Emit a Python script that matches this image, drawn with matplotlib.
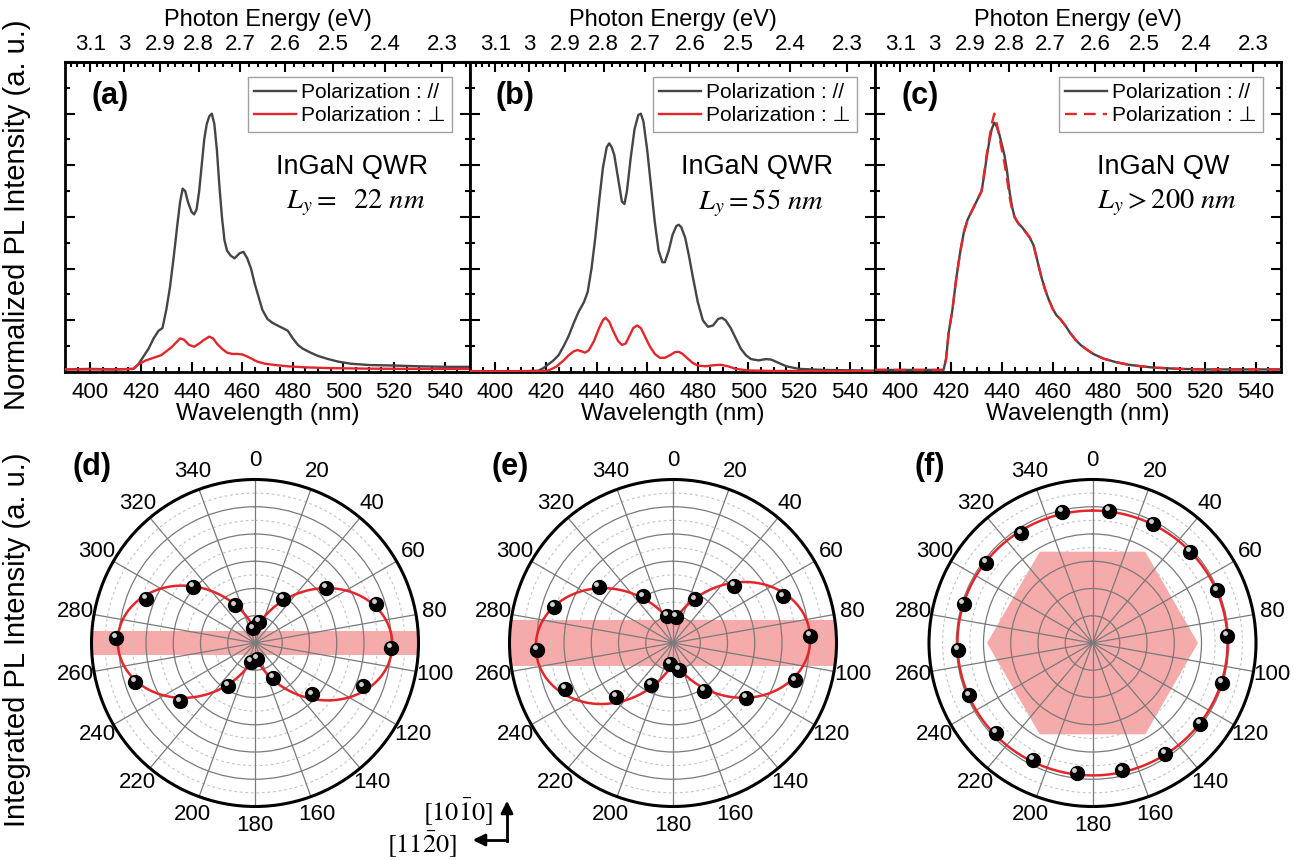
import numpy as np
import matplotlib
matplotlib.use('Agg')
import matplotlib.pyplot as plt
from matplotlib.ticker import MultipleLocator, FixedLocator, NullFormatter, FixedFormatter
from matplotlib.lines import Line2D
import matplotlib.transforms as mtransforms

plt.rcParams['font.family'] = ['Liberation Sans', 'DejaVu Sans']
plt.rcParams['mathtext.fontset'] = 'stix'

# ---------------- data: PL spectra ----------------
wl_a_par = [390, 400, 410, 417, 419, 421, 423, 425, 427, 428.5, 430, 431.5, 433, 434.5, 435.5, 436.5,
            437.5, 438.5, 440, 441, 442, 443, 444, 445, 446, 447, 448, 449, 450, 451, 452, 453, 454,
            455.5, 457, 459, 460.5, 462, 463.5, 465, 466.5, 468, 470, 472, 474, 476, 478, 480, 482,
            484, 487, 490, 494, 498, 503, 510, 520, 530, 540, 550]
pl_a_par = [0.01, 0.012, 0.01, 0.012, 0.03, 0.06, 0.09, 0.13, 0.16, 0.17, 0.24, 0.33, 0.45, 0.58, 0.66,
            0.71, 0.70, 0.66, 0.62, 0.61, 0.63, 0.70, 0.80, 0.90, 0.96, 0.99, 1.0, 0.96, 0.86, 0.72,
            0.60, 0.51, 0.47, 0.45, 0.44, 0.46, 0.465, 0.44, 0.40, 0.34, 0.29, 0.24, 0.205, 0.19, 0.18,
            0.17, 0.16, 0.13, 0.105, 0.09, 0.075, 0.062, 0.05, 0.04, 0.032, 0.027, 0.025, 0.022, 0.02, 0.02]
wl_a_perp = [390, 410, 417, 419, 422, 425, 428, 430, 432, 434, 435.5, 437, 439, 441, 443, 445, 447,
             448.5, 450, 452, 454, 456, 458, 460, 462, 464, 466, 469, 473, 478, 485, 495, 510, 530, 550]
pl_a_perp = [0.01, 0.01, 0.012, 0.03, 0.045, 0.055, 0.065, 0.08, 0.095, 0.115, 0.13, 0.125, 0.105,
             0.098, 0.11, 0.125, 0.137, 0.13, 0.11, 0.09, 0.075, 0.07, 0.07, 0.068, 0.06, 0.05, 0.04,
             0.032, 0.027, 0.022, 0.018, 0.015, 0.013, 0.012, 0.012]

wl_b_par = [390, 410, 417, 419, 421, 423, 425, 427, 429, 431, 433, 435, 436.5, 438, 439.5, 441, 442.5,
            444, 445, 446, 447, 448.5, 450, 451, 452, 453.5, 455, 456.5, 457.5, 458.5, 460, 461.5, 463,
            464.5, 466, 467, 468.5, 470, 471.5, 472.5, 473.5, 475, 476.5, 478, 480, 482, 484, 486, 488,
            489.5, 491, 493, 495, 497, 499, 501, 504, 507, 509, 512, 515, 520, 530, 550]
pl_b_par = [0.003, 0.003, 0.005, 0.015, 0.03, 0.045, 0.065, 0.10, 0.14, 0.19, 0.235, 0.27, 0.31, 0.40,
            0.52, 0.66, 0.79, 0.87, 0.885, 0.87, 0.84, 0.75, 0.66, 0.65, 0.70, 0.83, 0.94, 0.995, 1.0,
            0.97, 0.86, 0.72, 0.58, 0.47, 0.425, 0.425, 0.47, 0.53, 0.565, 0.57, 0.56, 0.52, 0.45, 0.37,
            0.27, 0.20, 0.175, 0.18, 0.205, 0.21, 0.20, 0.17, 0.13, 0.09, 0.065, 0.05, 0.045, 0.05,
            0.048, 0.035, 0.022, 0.012, 0.008, 0.005]
wl_b_perp = [390, 418, 421, 424, 427, 429, 431, 432.5, 434, 435.5, 437, 439, 441, 442.5, 443.5, 445,
             446.5, 448.5, 450, 451.5, 453, 454.5, 456, 457.5, 459, 461, 463, 465, 467, 469, 471, 472.5,
             474, 476, 478, 480, 483, 486, 489, 492, 495, 500, 510, 550]
pl_b_perp = [0.003, 0.003, 0.006, 0.02, 0.045, 0.065, 0.08, 0.085, 0.08, 0.075, 0.085, 0.12, 0.17, 0.20,
             0.21, 0.195, 0.16, 0.12, 0.105, 0.11, 0.14, 0.17, 0.18, 0.17, 0.14, 0.10, 0.07, 0.055,
             0.055, 0.065, 0.077, 0.078, 0.07, 0.052, 0.035, 0.025, 0.022, 0.026, 0.028, 0.022, 0.012,
             0.006, 0.004, 0.003]

wl_c = [390, 410, 417, 418, 419, 420.5, 422, 423.5, 425, 426.5, 428, 429.5, 431, 432, 433, 434, 435,
        436, 437, 438, 439, 440, 441, 442, 443, 444, 445, 446.5, 448, 449.5, 451, 452.5, 454, 455.5,
        457, 458.5, 460, 461.5, 463, 465, 467, 469, 471, 473, 476, 480, 485, 490, 495, 500, 510, 520, 550]
pl_c_par = [0.008, 0.008, 0.008, 0.05, 0.15, 0.24, 0.36, 0.46, 0.54, 0.59, 0.62, 0.65, 0.68, 0.70, 0.76,
            0.83, 0.89, 0.94, 0.965, 0.95, 0.92, 0.88, 0.84, 0.78, 0.70, 0.64, 0.60, 0.575, 0.56, 0.54,
            0.52, 0.49, 0.43, 0.37, 0.32, 0.28, 0.245, 0.22, 0.205, 0.18, 0.15, 0.125, 0.105, 0.09,
            0.07, 0.052, 0.038, 0.028, 0.022, 0.017, 0.012, 0.01, 0.01]
pl_c_perp = [0.008, 0.008, 0.008, 0.05, 0.15, 0.24, 0.36, 0.46, 0.54, 0.59, 0.62, 0.65, 0.68, 0.70, 0.77,
             0.84, 0.90, 0.96, 1.0, 0.96, 0.91, 0.86, 0.81, 0.75, 0.68, 0.63, 0.60, 0.575, 0.56, 0.54,
             0.52, 0.49, 0.43, 0.37, 0.32, 0.28, 0.245, 0.22, 0.205, 0.18, 0.15, 0.125, 0.105, 0.09,
             0.07, 0.052, 0.038, 0.028, 0.022, 0.017, 0.012, 0.01, 0.01]

wl_ticks = [400, 420, 440, 460, 480, 500, 520, 540]
ev_ticks = [3.1, 3.0, 2.9, 2.8, 2.7, 2.6, 2.5, 2.4, 2.3]
ev_labels = ['3.1', '3', '2.9', '2.8', '2.7', '2.6', '2.5', '2.4', '2.3']

panel_top_labels = ['(a)', '(b)', '(c)']
sample_names = ['InGaN QWR', 'InGaN QWR', 'InGaN QW']
sample_widths = [r'$L_y =\ \ 22\ nm$', r'$L_y = 55\ nm$', r'$L_y > 200\ nm$']
legend_labels = ['Polarization : //', 'Polarization : \u22a5']

# ---------------- data: polar measurements ----------------
angle_labels = [str(a) for a in range(0, 360, 20)]
ang_d = [12, 32, 52, 72, 92, 112, 132, 152, 172, 192, 212, 232, 252, 272, 292, 312, 332, 352]
int_d = [0.13, 0.32, 0.55, 0.78, 0.83, 0.71, 0.47, 0.24, 0.10, 0.12, 0.31, 0.58, 0.77, 0.85, 0.72,
         0.51, 0.26, 0.09]
ang_e = [7, 27, 47, 67, 87, 107, 127, 147, 167, 187, 207, 227, 247, 267, 287, 307, 327, 347]
int_e = [0.16, 0.30, 0.51, 0.73, 0.84, 0.78, 0.56, 0.35, 0.17, 0.13, 0.29, 0.48, 0.72, 0.83, 0.76,
         0.57, 0.34, 0.17]
ang_f = [7, 27, 47, 67, 87, 107, 127, 147, 167, 187, 207, 227, 247, 267, 287, 307, 327, 347]
int_f = [0.816, 0.817, 0.814, 0.825, 0.825, 0.828, 0.822, 0.81, 0.80, 0.80, 0.80, 0.806, 0.821, 0.825,
         0.825, 0.814, 0.80, 0.822]
# fit parameters of I = a + b*sin^2(theta - phi)
fit_d = (0.095, 0.745, 1.0)
fit_e = (0.14, 0.70, -2.5)
fit_f = (0.81, 0.016, 0.0)
panel_bot_labels = ['(d)', '(e)', '(f)']

# ---------------- figure ----------------
W, H = 1316, 860
fig = plt.figure(figsize=(W / 100, H / 100), dpi=100)


def rect(x0, y0, x1, y1):
    return [x0 / W, 1 - y1 / H, (x1 - x0) / W, (y1 - y0) / H]


def ftext(x, y, s, **kw):
    return fig.text(x / W, 1 - y / H, s, **kw)


GRAY = '#454545'
RED = '#e4262b'
PINK = '#f7aaaa'


def nm2ev(x):
    x = np.asarray(x, dtype=float)
    out = np.full_like(x, 1e9)
    np.divide(1239.84, x, out=out, where=np.abs(x) > 1e-9)
    return out


top_x = [(65, 470), (470, 875), (875, 1281)]
curves = [(wl_a_par, pl_a_par, wl_a_perp, pl_a_perp, '-'),
          (wl_b_par, pl_b_par, wl_b_perp, pl_b_perp, '-'),
          (wl_c, pl_c_par, wl_c, pl_c_perp, '--')]

for i, (x0, x1) in enumerate(top_x):
    ax = fig.add_axes(rect(x0, 62, x1, 372))
    wp, ip, ws, is_, sty = curves[i]
    ax.plot(wp, ip, color=GRAY, lw=1.7, zorder=3)
    if sty == '--':
        ax.plot(ws, is_, color=RED, lw=1.7, ls=(0, (5, 3)), zorder=4)
    else:
        ax.plot(ws, is_, color=RED, lw=1.7, zorder=4)
    ax.set_xlim(390, 550)
    ax.set_ylim(0, 1.2)
    ax.xaxis.set_major_locator(FixedLocator(wl_ticks))
    ax.xaxis.set_minor_locator(MultipleLocator(5))
    ax.yaxis.set_major_locator(MultipleLocator(0.2))
    ax.yaxis.set_minor_locator(MultipleLocator(0.1))
    ax.yaxis.set_major_formatter(NullFormatter())
    ax.tick_params(which='both', direction='in', right=True, top=False, width=1.5)
    ax.tick_params(which='major', length=7)
    ax.tick_params(which='minor', length=3.5)
    ax.tick_params(axis='x', labelsize=16, pad=7)
    for s in ax.spines.values():
        s.set_linewidth(2)
    ax.set_xlabel('Wavelength (nm)', fontsize=17.5, labelpad=0)

    sec = ax.secondary_xaxis('top', functions=(nm2ev, nm2ev))
    sec.xaxis.set_major_locator(FixedLocator(ev_ticks))
    sec.xaxis.set_major_formatter(FixedFormatter(ev_labels))
    sec.xaxis.set_minor_locator(FixedLocator(np.round(np.arange(2.26, 3.19, 0.02), 2)))
    sec.tick_params(which='both', direction='in', width=1.5)
    sec.tick_params(which='major', length=7, labelsize=16, pad=5)
    sec.tick_params(which='minor', length=3.5)
    sec.spines['top'].set_linewidth(2)
    sec.set_xlabel('Photon Energy (eV)', fontsize=17, labelpad=6)

    handles = [Line2D([], [], color=GRAY, lw=1.7),
               Line2D([], [], color=RED, lw=1.7, ls=(0, (5, 3)) if sty == '--' else '-')]
    leg = ax.legend(handles, legend_labels, loc='upper right', bbox_to_anchor=(0.955, 0.952),
                    borderaxespad=0, fontsize=15, frameon=True, fancybox=False, edgecolor='#8a8a8a',
                    handlelength=2.0, handletextpad=0.25, labelspacing=0.2, borderpad=0.3)
    leg.get_frame().set_linewidth(1.0)

    cx = x0 + 45
    ftext(cx, 96, panel_top_labels[i], fontsize=22, fontweight='bold', ha='center', va='center')
    ftext(x1 - 118, 167, sample_names[i], fontsize=19.5, ha='center', va='center')
    ftext(x1 - 114, 203, sample_widths[i], fontsize=20.5, ha='center', va='center')

# ---------------- polar panels ----------------
centers = [(255, 643), (673, 643), (1092.5, 643)]
R_PX = 163.5
pol_data = [(ang_d, int_d, fit_d), (ang_e, int_e, fit_e), (ang_f, int_f, fit_f)]
band_half = [0.072, 0.138, None]
hex_radius = 0.645

th_full = np.linspace(0, 2 * np.pi, 721)


def edge_path(corners, n=200):
    xs, ys = [], []
    m = len(corners)
    for k in range(m):
        xa, ya = corners[k]
        xb, yb = corners[(k + 1) % m]
        t = np.linspace(0, 1, n, endpoint=False)
        xs.append(xa + (xb - xa) * t)
        ys.append(ya + (yb - ya) * t)
    xs = np.concatenate(xs)
    ys = np.concatenate(ys)
    return np.arctan2(xs, ys), np.hypot(xs, ys)


for i, (cx, cy) in enumerate(centers):
    ax = fig.add_axes(rect(cx - R_PX, cy - R_PX, cx + R_PX, cy + R_PX), projection='polar')
    ax.set_theta_zero_location('N')
    ax.set_theta_direction(-1)
    ax.set_ylim(0, 1)
    ax.set_rgrids([1 / 6, 2 / 6, 3 / 6, 4 / 6, 5 / 6], labels=[''] * 5)
    ax.set_thetagrids(np.arange(0, 360, 20), angle_labels, fontsize=16)
    ax.grid(True, color='#7a7a7a', lw=0.9)
    ax.spines['polar'].set_linewidth(2.2)
    ax.tick_params(axis='x', direction='inout', length=7, width=1.4, pad=3)

    for rr in [1 / 12, 3 / 12, 5 / 12, 7 / 12, 9 / 12, 11 / 12]:
        ax.plot(th_full, np.full_like(th_full, rr), color='#c4c4c4', lw=0.8, ls=(0, (2.5, 2.5)), zorder=1.2)

    if band_half[i] is not None:
        h = band_half[i]
        th_b, r_b = edge_path([(-1.2, -h), (1.2, -h), (1.2, h), (-1.2, h)])
        ax.fill(th_b, r_b, color=PINK, lw=0, zorder=1.0)
    else:
        a6 = np.radians(np.arange(0, 360, 60))
        th_h, r_h = edge_path(list(zip(hex_radius * np.cos(a6), hex_radius * np.sin(a6))))
        ax.fill(th_h, r_h, color=PINK, lw=0, zorder=1.0)

    angs, vals, (fa, fb, fphi) = pol_data[i]
    th_deg = np.linspace(0, 360, 721)
    r_fit = fa + fb * np.sin(np.radians(th_deg - fphi)) ** 2
    ax.plot(np.radians(th_deg), r_fit, color=RED, lw=1.8, zorder=4)
    th_pts = np.radians(angs)
    ax.plot(th_pts, vals, 'o', ms=10, color='black', mec='black', zorder=5, clip_on=False)
    hl = ax.transData + mtransforms.ScaledTranslation(-1.5 / 72, 2.0 / 72, fig.dpi_scale_trans)
    ax.plot(th_pts, vals, 'o', ms=3.5, color='#d0d0d0', mec='none', transform=hl, zorder=6, clip_on=False)

    ftext(cx - 163, 467, panel_bot_labels[i], fontsize=22, fontweight='bold', ha='center', va='center')

# ---------------- side labels ----------------
ftext(17, 215, 'Normalized PL Intensity (a. u.)', rotation=90, fontsize=21, ha='center', va='center')
ftext(17, 640, 'Integrated PL Intensity (a. u.)', rotation=90, fontsize=21, ha='center', va='center')

# ---------------- crystal direction arrows ----------------
ftext(458, 812, r'$[10\bar{1}0]$', fontsize=19, ha='center', va='center')
ftext(422, 845, r'$[11\bar{2}0]$', fontsize=19, ha='center', va='center')
fig.add_artist(Line2D([507 / W, 507 / W], [1 - 841 / H, 1 - 812 / H], color='k', lw=2))
fig.add_artist(Line2D([507 / W, 485 / W], [1 - 840 / H, 1 - 840 / H], color='k', lw=2))
fig.patches.append(matplotlib.patches.FancyArrowPatch((507 / W, 1 - 815 / H), (507 / W, 1 - 798 / H),
                   transform=fig.transFigure, arrowstyle='-|>', mutation_scale=18, color='k', lw=2))
fig.patches.append(matplotlib.patches.FancyArrowPatch((488 / W, 1 - 840 / H), (470 / W, 1 - 840 / H),
                   transform=fig.transFigure, arrowstyle='-|>', mutation_scale=18, color='k', lw=2))

fig.savefig('out.png', dpi=100)
